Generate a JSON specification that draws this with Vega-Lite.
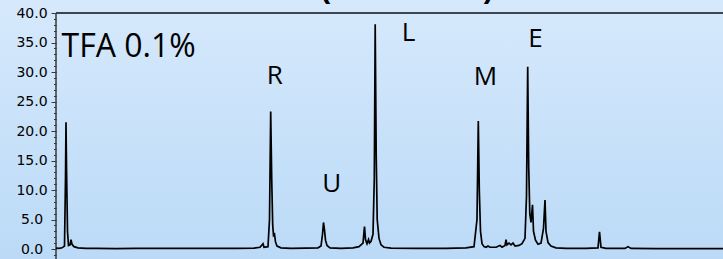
{
  "$schema": "https://vega.github.io/schema/vega-lite/v6.json",
  "width": 723,
  "height": 259,
  "padding": 0,
  "autosize": {"type": "none"},
  "background": "#c9e1f9",
  "config": {
    "view": {
      "stroke": null,
      "fill": {
        "gradient": "linear",
        "x1": 0, "y1": 0, "x2": 0, "y2": 1,
        "stops": [
          {"offset": 0, "color": "#d6e9fc"},
          {"offset": 1, "color": "#bbdaf7"}
        ]
      }
    }
  },
  "title": {
    "text": "(UV 214 nm)",
    "font": "Liberation Sans",
    "fontSize": 30,
    "fontWeight": "bold",
    "color": "#000000",
    "baseline": "alphabetic",
    "anchor": "middle",
    "frame": "group",
    "offset": -1,
    "dx": 45.5,
    "dy": 27
  },
  "datasets": {
    "trace": [
      {"t": 0.0, "v": 0.15}, {"t": 0.3, "v": 0.1}, {"t": 0.6, "v": 0.2}, {"t": 0.85, "v": 0.5},
      {"t": 0.95, "v": 12}, {"t": 1.0, "v": 21.5}, {"t": 1.05, "v": 14}, {"t": 1.15, "v": 3},
      {"t": 1.25, "v": 0.6}, {"t": 1.4, "v": 0.7}, {"t": 1.5, "v": 1.6}, {"t": 1.6, "v": 0.8},
      {"t": 1.8, "v": 0.4}, {"t": 2.2, "v": 0.2}, {"t": 3.0, "v": 0.1}, {"t": 4.0, "v": 0.12},
      {"t": 6.0, "v": 0.08}, {"t": 8.0, "v": 0.1}, {"t": 10.0, "v": 0.12}, {"t": 12.0, "v": 0.1},
      {"t": 14.0, "v": 0.1}, {"t": 16.0, "v": 0.12}, {"t": 18.0, "v": 0.1}, {"t": 19.8, "v": 0.15},
      {"t": 20.4, "v": 0.3}, {"t": 20.7, "v": 0.9}, {"t": 20.8, "v": 0.3}, {"t": 21.2, "v": 0.4},
      {"t": 21.35, "v": 5}, {"t": 21.47, "v": 23.3}, {"t": 21.57, "v": 12}, {"t": 21.67, "v": 4},
      {"t": 21.75, "v": 2.3}, {"t": 21.85, "v": 2.5}, {"t": 21.95, "v": 1.2}, {"t": 22.1, "v": 0.5},
      {"t": 22.5, "v": 0.2}, {"t": 23.5, "v": 0.1}, {"t": 25.0, "v": 0.15}, {"t": 26.2, "v": 0.2},
      {"t": 26.5, "v": 0.5}, {"t": 26.65, "v": 2.5}, {"t": 26.75, "v": 4.5}, {"t": 26.85, "v": 3.2},
      {"t": 26.95, "v": 1.5}, {"t": 27.1, "v": 0.6}, {"t": 27.4, "v": 0.2}, {"t": 28.5, "v": 0.1},
      {"t": 29.7, "v": 0.2}, {"t": 30.3, "v": 0.4}, {"t": 30.7, "v": 1.0}, {"t": 30.85, "v": 3.8},
      {"t": 30.95, "v": 1.6}, {"t": 31.1, "v": 0.9}, {"t": 31.25, "v": 1.6}, {"t": 31.35, "v": 1.0},
      {"t": 31.5, "v": 1.3}, {"t": 31.7, "v": 2.5}, {"t": 31.83, "v": 12}, {"t": 31.92, "v": 38.1},
      {"t": 32.02, "v": 16}, {"t": 32.12, "v": 5}, {"t": 32.3, "v": 1.8}, {"t": 32.5, "v": 0.7},
      {"t": 32.8, "v": 0.3}, {"t": 33.5, "v": 0.15}, {"t": 36.0, "v": 0.1}, {"t": 39.0, "v": 0.1},
      {"t": 41.0, "v": 0.2}, {"t": 41.8, "v": 0.4}, {"t": 42.1, "v": 5}, {"t": 42.23, "v": 21.7},
      {"t": 42.33, "v": 10}, {"t": 42.45, "v": 3}, {"t": 42.6, "v": 0.9}, {"t": 42.8, "v": 0.4},
      {"t": 43.0, "v": 0.3}, {"t": 43.2, "v": 0.5}, {"t": 43.4, "v": 0.3}, {"t": 44.0, "v": 0.3},
      {"t": 44.4, "v": 0.6}, {"t": 44.6, "v": 0.3}, {"t": 44.9, "v": 0.6}, {"t": 45.0, "v": 1.6},
      {"t": 45.1, "v": 0.7}, {"t": 45.3, "v": 1.0}, {"t": 45.5, "v": 0.7}, {"t": 45.7, "v": 1.0},
      {"t": 45.9, "v": 0.5}, {"t": 46.3, "v": 0.6}, {"t": 46.6, "v": 0.9}, {"t": 46.9, "v": 1.8},
      {"t": 47.05, "v": 9}, {"t": 47.17, "v": 30.9}, {"t": 47.27, "v": 14}, {"t": 47.38, "v": 6},
      {"t": 47.5, "v": 4.5}, {"t": 47.65, "v": 7.5}, {"t": 47.75, "v": 3}, {"t": 47.95, "v": 1.5},
      {"t": 48.2, "v": 0.8}, {"t": 48.5, "v": 1.0}, {"t": 48.75, "v": 3.5}, {"t": 48.9, "v": 8.3},
      {"t": 49.0, "v": 3}, {"t": 49.2, "v": 1.1}, {"t": 49.5, "v": 0.5}, {"t": 50.0, "v": 0.2},
      {"t": 51.0, "v": 0.1}, {"t": 53.0, "v": 0.1}, {"t": 54.2, "v": 0.2}, {"t": 54.35, "v": 2.9},
      {"t": 54.5, "v": 0.3}, {"t": 55.0, "v": 0.1}, {"t": 56.9, "v": 0.1}, {"t": 57.2, "v": 0.4},
      {"t": 57.5, "v": 0.1}, {"t": 60.0, "v": 0.05}, {"t": 66.7, "v": 0.05}
    ],
    "condition": [
      {"t": 0.55, "v": 32.6, "label": "TFA 0.1%"}
    ],
    "peaks": [
      {"t": 21.87, "v": 27.9, "label": "R"},
      {"t": 27.57, "v": 9.7, "label": "U"},
      {"t": 35.25, "v": 35.25, "label": "L"},
      {"t": 42.95, "v": 27.8, "label": "M"},
      {"t": 47.95, "v": 34.2, "label": "E"}
    ]
  },
  "layer": [
    {
      "data": {"values": [{}]},
      "mark": {"type": "rule", "color": "#3b4651", "strokeWidth": 2},
      "encoding": {
        "x": {"datum": 0, "type": "quantitative", "scale": {"domain": [-5.6, 66.7], "nice": false, "zero": false}, "axis": null},
        "x2": {"datum": 66.7},
        "y": {"datum": 40, "type": "quantitative", "scale": {"domain": [-1.6949, 42.2034], "nice": false, "zero": false}, "axis": null}
      }
    },
    {
      "data": {"values": [{}]},
      "mark": {"type": "rule", "color": "#3a3a3a", "strokeWidth": 1.5},
      "encoding": {
        "x": {"datum": 0, "type": "quantitative", "scale": {"domain": [-5.6, 66.7], "nice": false, "zero": false}, "axis": null},
        "y": {"datum": -1.6949, "type": "quantitative", "scale": {"domain": [-1.6949, 42.2034], "nice": false, "zero": false}, "axis": null},
        "y2": {"datum": 40}
      }
    },
    {
      "data": {"name": "trace"},
      "mark": {"type": "line", "color": "#000000", "strokeWidth": 1.7, "clip": true},
      "encoding": {
        "x": {"field": "t", "type": "quantitative", "scale": {"domain": [-5.6, 66.7], "nice": false, "zero": false}, "axis": null},
        "y": {
          "field": "v", "type": "quantitative",
          "scale": {"domain": [-1.6949, 42.2034], "nice": false, "zero": false},
          "axis": {
            "orient": "left", "offset": -56, "title": null,
            "values": [0, 5, 10, 15, 20, 25, 30, 35, 40],
            "format": ".1f", "domain": false, "grid": false,
            "ticks": true, "tickSize": 5, "tickColor": "#3a3a3a", "tickWidth": 1,
            "labelAlign": "center", "labelBaseline": "middle", "labelPadding": 19.5,
            "labelFont": "DejaVu Sans", "labelFontSize": 14, "labelColor": "#000000",
            "labelFlush": false, "labelOverlap": false
          }
        }
      }
    },
    {
      "data": {"name": "condition"},
      "mark": {"type": "text", "font": "Open Sans", "fontSize": 32, "color": "#000000", "align": "left", "baseline": "alphabetic"},
      "encoding": {
        "x": {"field": "t", "type": "quantitative", "scale": {"domain": [-5.6, 66.7], "nice": false, "zero": false}, "axis": null},
        "y": {
          "field": "v", "type": "quantitative",
          "scale": {"domain": [-1.6949, 42.2034], "nice": false, "zero": false},
          "axis": {
            "orient": "left", "offset": -56, "title": null,
            "values": [-1, 0, 1, 2, 3, 4, 5, 6, 7, 8, 9, 10, 11, 12, 13, 14, 15, 16, 17, 18, 19, 20, 21, 22, 23, 24, 25, 26, 27, 28, 29, 30, 31, 32, 33, 34, 35, 36, 37, 38, 39, 40],
            "domain": false, "grid": false, "labels": false,
            "ticks": true, "tickSize": 2.5, "tickColor": "#3a3a3a", "tickWidth": 1
          }
        },
        "text": {"field": "label"}
      }
    },
    {
      "data": {"name": "peaks"},
      "mark": {"type": "text", "font": "Open Sans", "fontSize": 26, "color": "#000000", "align": "center", "baseline": "alphabetic"},
      "encoding": {
        "x": {"field": "t", "type": "quantitative", "scale": {"domain": [-5.6, 66.7], "nice": false, "zero": false}, "axis": null},
        "y": {"field": "v", "type": "quantitative", "scale": {"domain": [-1.6949, 42.2034], "nice": false, "zero": false}, "axis": null},
        "text": {"field": "label"}
      }
    }
  ],
  "resolve": {"axis": {"y": "independent"}}
}
